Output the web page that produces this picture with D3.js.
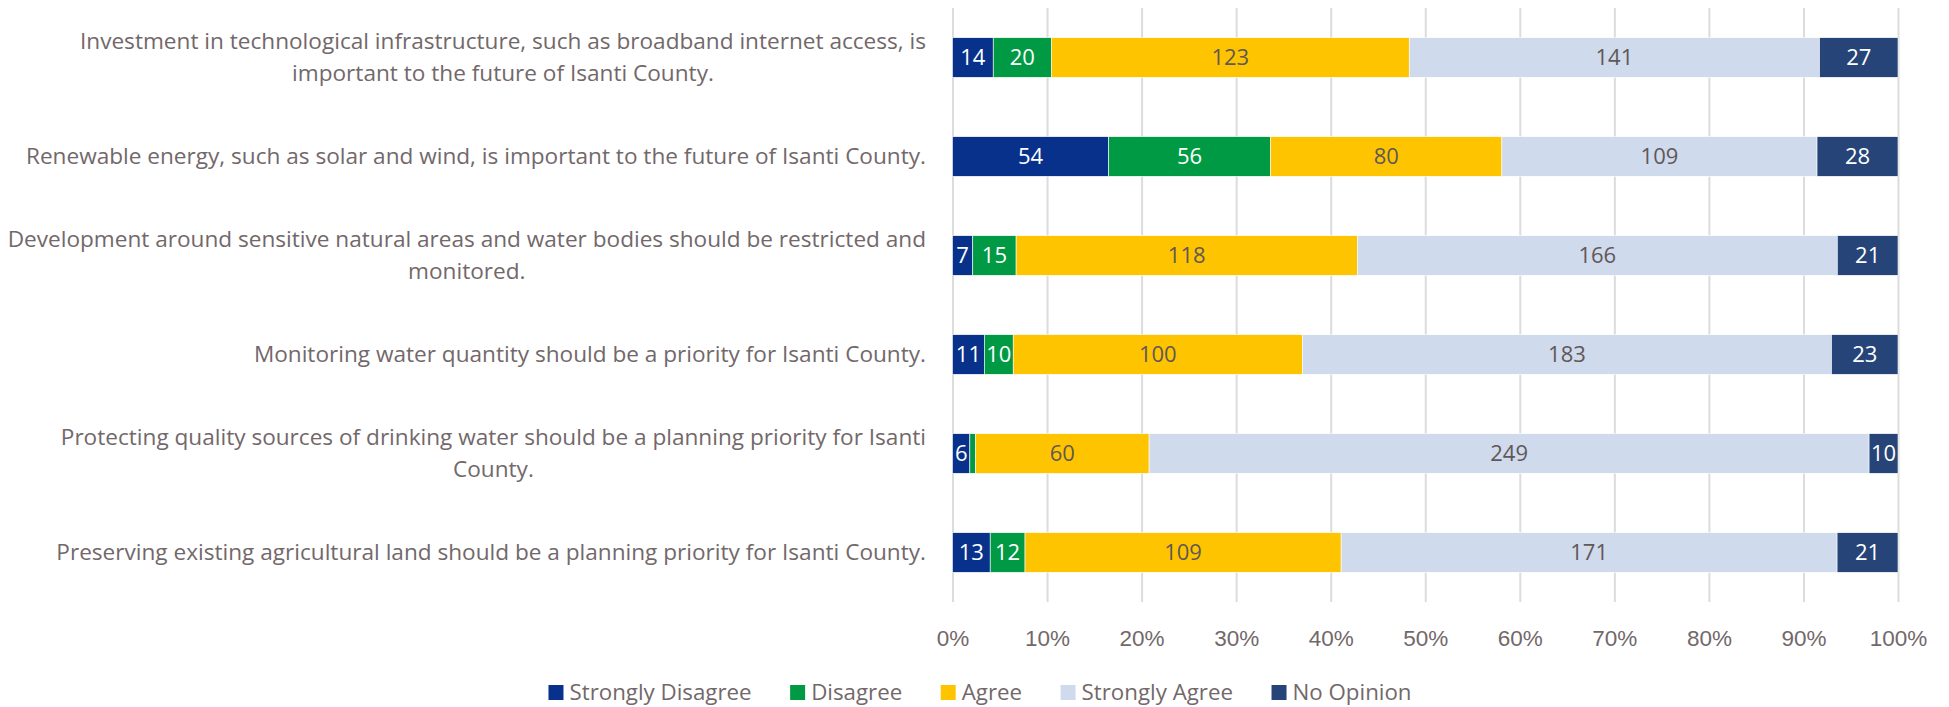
<!DOCTYPE html>
<html>
<head>
<meta charset="utf-8">
<script src="https://cdn.jsdelivr.net/npm/d3@7"></script>
<style>
  html, body { margin: 0; padding: 0; background: #fff; }
  svg { display: block; font-family: "Open Sans", "Noto Sans", sans-serif; }
</style>
</head>
<body>
<svg id="chart" width="1949" height="707"></svg>
<script>
// ---- data ----
const categories = [
  "Investment in technological infrastructure, such as broadband internet access, is\nimportant to the future of Isanti County.",
  "Renewable energy, such as solar and wind, is important to the future of Isanti County.",
  "Development around sensitive natural areas and water bodies should be restricted and\nmonitored.",
  "Monitoring water quantity should be a priority for Isanti County.",
  "Protecting quality sources of drinking water should be a planning priority for Isanti\nCounty.",
  "Preserving existing agricultural land should be a planning priority for Isanti County."
];
const seriesNames = ["Strongly Disagree", "Disagree", "Agree", "Strongly Agree", "No Opinion"];
const stronglyDisagree = [14, 54, 7, 11, 6, 13];
const disagree         = [20, 56, 15, 10, 2, 12];
const agree            = [123, 80, 118, 100, 60, 109];
const stronglyAgree    = [141, 109, 166, 183, 249, 171];
const noOpinion        = [27, 28, 21, 23, 10, 21];
const tickValues = [0, 0.1, 0.2, 0.3, 0.4, 0.5, 0.6, 0.7, 0.8, 0.9, 1.0];

const seriesValues = [stronglyDisagree, disagree, agree, stronglyAgree, noOpinion];
const colors = ["#07318B", "#009A44", "#FFC400", "#CFDAEC", "#264478"];
const labelColors = ["#FFFFFF", "#FFFFFF", "#5F5858", "#5F5858", "#FFFFFF"];
const textColor = "#72686A";

// ---- layout ----
const svg = d3.select("#chart");
const plotLeft = 952.5, plotRight = 1898, plotTop = 8, plotBottom = 602;

const x = d3.scaleLinear().domain([0, 1]).range([plotLeft, plotRight]);
const y = d3.scaleBand().domain(categories).range([plotTop, plotBottom])
  .paddingInner(0.6).paddingOuter(0.3);

// table for stacking
const table = categories.map((c, i) => {
  const row = { category: c };
  seriesNames.forEach((s, j) => row[s] = seriesValues[j][i]);
  row.total = d3.sum(seriesNames, s => row[s]);
  return row;
});
const stack = d3.stack().keys(seriesNames)
  .value((d, key) => d[key] / d.total);
const stacked = stack(table);

// gridlines + axis
const axis = d3.axisBottom(x).tickValues(tickValues)
  .tickFormat(d3.format(".0%"))
  .tickSize(-(plotBottom - plotTop)).tickPadding(0);
const gAxis = svg.append("g").attr("transform", `translate(0,${plotBottom})`).call(axis);
gAxis.select(".domain").remove();
gAxis.selectAll(".tick line").attr("stroke", "#DCDCDC").attr("stroke-width", 2);
gAxis.selectAll(".tick text")
  .attr("fill", textColor).attr("font-size", 22.5)
  .attr("y", 36).attr("dy", "0.35em");

// bars
const gSeries = svg.append("g").selectAll("g").data(stacked).join("g")
  .attr("fill", (d, i) => colors[i]);
gSeries.selectAll("rect").data(d => d).join("rect")
  .attr("x", d => x(d[0]))
  .attr("y", d => y(d.data.category))
  .attr("width", d => x(d[1]) - x(d[0]))
  .attr("height", y.bandwidth())
  .attr("stroke", "#ffffff").attr("stroke-width", 0.6);

// data labels
const gLabels = svg.append("g").attr("font-size", 22);
stacked.forEach((ser, i) => {
  ser.forEach(d => {
    const w = x(d[1]) - x(d[0]);
    const val = d.data[ser.key];
    const t = gLabels.append("text")
      .attr("x", (x(d[0]) + x(d[1])) / 2)
      .attr("y", y(d.data.category) + y.bandwidth() / 2)
      .attr("dy", "0.35em")
      .attr("text-anchor", "middle")
      .attr("fill", labelColors[i])
      .text(val);
    if (t.node().getComputedTextLength() > w) t.remove();
  });
});

// category labels (multi-line, centered lines, block right-aligned)
const labelRight = 926;
const lineH = 32;
const gCat = svg.append("g").attr("font-size", 22.6).attr("fill", textColor);
categories.forEach(c => {
  const lines = c.split("\n");
  const cy = y(c) + y.bandwidth() / 2;
  const t = gCat.append("text").attr("text-anchor", "middle");
  const spans = lines.map((ln, k) => t.append("tspan")
    .attr("y", cy + (k - (lines.length - 1) / 2) * lineH)
    .attr("dy", "0.35em")
    .text(ln));
  const maxW = d3.max(spans, s => s.node().getComputedTextLength());
  spans.forEach(s => s.attr("x", labelRight - maxW / 2));
});

// legend
const legendY = 692.5, sq = 15, gapSq = 6, gapItem = 38.5;
const gLeg = svg.append("g").attr("font-size", 22.3).attr("fill", textColor);
const items = seriesNames.map((s, i) => {
  const g = gLeg.append("g");
  g.append("rect").attr("width", sq).attr("height", sq)
    .attr("y", legendY - sq / 2).attr("fill", colors[i]);
  const t = g.append("text").attr("x", sq + gapSq).attr("y", legendY)
    .attr("dy", "0.35em").text(s);
  return { g, w: sq + gapSq + t.node().getComputedTextLength() };
});
const totalW = d3.sum(items, d => d.w) + gapItem * (items.length - 1);
let cx = 980 - totalW / 2;
items.forEach(it => { it.g.attr("transform", `translate(${cx},0)`); cx += it.w + gapItem; });
</script>
</body>
</html>
